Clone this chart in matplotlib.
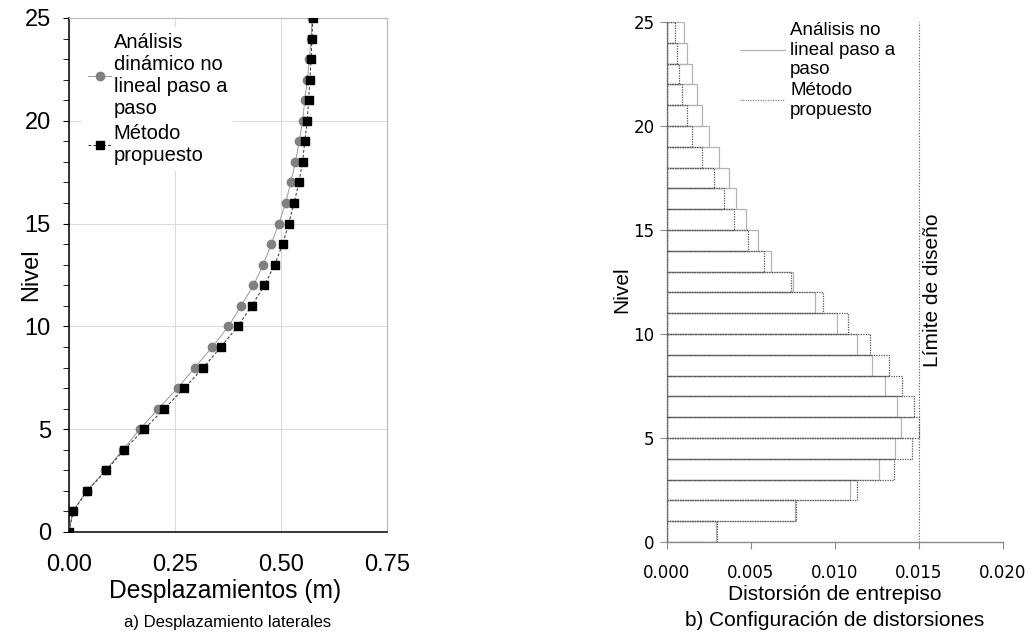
import matplotlib
matplotlib.use('Agg')
import matplotlib.pyplot as plt
from matplotlib.lines import Line2D
from matplotlib.ticker import MultipleLocator
import numpy as np

# a) lateral displacements per level
niveles = np.arange(0, 26)
desp_analisis = [0.000, 0.009, 0.042, 0.086, 0.127, 0.167, 0.211, 0.256, 0.297, 0.338,
                 0.376, 0.406, 0.435, 0.458, 0.477, 0.495, 0.511, 0.523, 0.534, 0.543,
                 0.551, 0.556, 0.562, 0.567, 0.571, 0.573]
desp_metodo = [0.000, 0.0095, 0.043, 0.088, 0.130, 0.177, 0.225, 0.272, 0.317, 0.358,
               0.398, 0.431, 0.461, 0.485, 0.504, 0.518, 0.531, 0.542, 0.551, 0.556,
               0.562, 0.565, 0.568, 0.571, 0.573, 0.575]
x_ticks_desp = [0, 0.25, 0.5, 0.75]
x_labels_desp = ['0.00', '0.25', '0.50', '0.75']

# b) inter-story drift per story (story i spans level i-1 to i)
pisos = np.arange(1, 26)
dist_analisis = [0.0029, 0.0076, 0.0109, 0.0126, 0.0136, 0.0139, 0.0137, 0.0130, 0.0122, 0.0113,
                 0.0101, 0.0088, 0.0075, 0.0062, 0.0054, 0.0047, 0.0041, 0.0037, 0.0031, 0.0025,
                 0.0021, 0.0018, 0.0015, 0.0012, 0.0010]
dist_metodo = [0.0030, 0.0077, 0.0113, 0.0135, 0.0146, 0.0150, 0.0147, 0.0140, 0.0132, 0.0121,
               0.0108, 0.0093, 0.0074, 0.0058, 0.0048, 0.0040, 0.0034, 0.0028, 0.0021, 0.0015,
               0.0012, 0.0009, 0.0007, 0.0006, 0.0005]
x_ticks_dist = [0, 0.005, 0.010, 0.015, 0.020]
x_labels_dist = ['0.000', '0.005', '0.010', '0.015', '0.020']
limite_diseno = 0.015

plt.rcParams['font.family'] = ['Liberation Sans', 'DejaVu Sans']

W, H = 1032, 636
fig = plt.figure(figsize=(W / 100, H / 100), dpi=100)

# ---------------- left panel ----------------
ax1 = fig.add_axes([69 / W, 1 - 532 / H, 318 / W, 514 / H])
ax1.plot(desp_analisis, niveles, color='#9a9a9a', lw=0.7, ls='-',
         marker='o', ms=6, mfc='#808080', mec='#808080',
         label='Análisis\ndinámico no\nlineal paso a\npaso', zorder=3)
ax1.plot(desp_metodo, niveles, color='#333333', lw=0.7, ls=(0, (3, 2)),
         marker='s', ms=6.3, mfc='black', mec='black', label='Método\npropuesto', zorder=4)
ax1.set_xlim(0, 0.75)
ax1.set_ylim(0, 25)
ax1.set_xticks(x_ticks_desp)
ax1.set_xticklabels(x_labels_desp)
ax1.yaxis.set_major_locator(MultipleLocator(5))
ax1.yaxis.set_minor_locator(MultipleLocator(1))
ax1.grid(True, color='#dcdcdc', lw=0.8, zorder=0)
ax1.set_axisbelow(True)
for s in ['top', 'right']:
    ax1.spines[s].set_color('#bfbfbf')
    ax1.spines[s].set_linewidth(0.9)
for s in ['left', 'bottom']:
    ax1.spines[s].set_color('black')
    ax1.spines[s].set_linewidth(1.1)
ax1.tick_params(axis='x', length=0, labelsize=17, pad=16)
ax1.tick_params(axis='y', which='major', length=4, labelsize=17, pad=9)
ax1.tick_params(axis='y', which='minor', length=4)
ax1.set_xlabel('Desplazamientos (m)', fontsize=17.7)
ax1.xaxis.set_label_coords((225 - 69) / 318, (532 - 591) / 514)
ax1.xaxis.label.set_va('center')
ax1.set_ylabel('Nivel', fontsize=17)
ax1.yaxis.set_label_coords((31 - 69) / 318, 0.5)
ax1.yaxis.label.set_va('center')
ax1.legend(loc='upper left', bbox_to_anchor=(82 / W, 1 - 27 / H),
           bbox_transform=fig.transFigure, fontsize=14.5, frameon=True,
           facecolor='white', edgecolor='none', framealpha=1, fancybox=False,
           handlelength=1.15, handletextpad=0.12, borderpad=0.3, labelspacing=0.3,
           borderaxespad=0)
fig.text(228 / W, 1 - 623 / H, 'a) Desplazamiento laterales', ha='center', va='center', fontsize=12)

# ---------------- right panel ----------------
ax2 = fig.add_axes([667 / W, 1 - 542 / H, 336 / W, 520 / H])
ax2.barh(pisos - 1, dist_analisis, height=1, align='edge', fill=False,
         edgecolor='#b4b4b4', lw=0.9, ls='-', zorder=2)
ax2.barh(pisos - 1, dist_metodo, height=1, align='edge', fill=False,
         edgecolor='#555555', lw=0.9, ls=(0, (1, 1)), zorder=3)
ax2.axvline(limite_diseno, color='#555555', lw=0.8, ls=(0, (1, 1.5)))
ax2.text(0.0158, 12.1, 'Límite de diseño', rotation=90, ha='center', va='center', fontsize=15)
ax2.set_xlim(0, 0.02)
ax2.set_ylim(0, 25)
ax2.set_xticks(x_ticks_dist)
ax2.set_xticklabels(x_labels_dist)
ax2.yaxis.set_major_locator(MultipleLocator(5))
for s in ['top', 'right']:
    ax2.spines[s].set_visible(False)
for s in ['left', 'bottom']:
    ax2.spines[s].set_color('#8a8a8a')
    ax2.spines[s].set_linewidth(1.0)
ax2.tick_params(axis='both', length=5, color='#8a8a8a', labelsize=12)
ax2.tick_params(axis='x', pad=11)
ax2.tick_params(axis='y', pad=4)
for lab in ax2.get_xticklabels() + ax2.get_yticklabels():
    lab.set_family('DejaVu Sans')
ax2.set_xlabel('Distorsión de entrepiso', fontsize=15)
ax2.xaxis.set_label_coords(0.5, (542 - 594) / 520)
ax2.xaxis.label.set_va('center')
ax2.set_ylabel('Nivel', fontsize=15)
ax2.yaxis.set_label_coords((622 - 667) / 336, 0.485)
ax2.yaxis.label.set_va('center')
handles = [Line2D([], [], color='#b4b4b4', lw=0.9, ls='-'),
           Line2D([], [], color='#888888', lw=0.9, ls=(0, (1, 1)))]
ax2.legend(handles, ['Análisis no\nlineal paso a\npaso', 'Método\npropuesto'],
           loc='upper left', bbox_to_anchor=(740 / W, 1 - 22 / H), bbox_transform=fig.transFigure,
           fontsize=13.5, frameon=False, handlelength=2.4, handletextpad=0.27,
           borderpad=0, labelspacing=0.2, borderaxespad=0)
fig.text(835 / W, 1 - 621 / H, 'b) Configuración de distorsiones', ha='center', va='center', fontsize=15)

fig.savefig('out.png', dpi=100)
